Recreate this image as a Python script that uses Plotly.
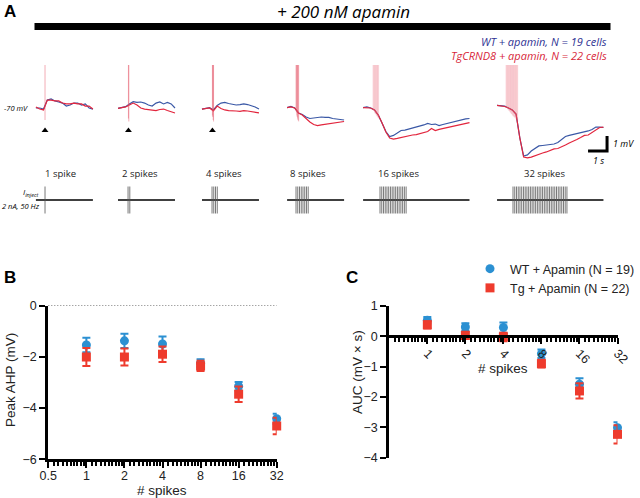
import plotly.graph_objects as go

W, H = 640, 498

# ---- panel A: averaged voltage traces (mV), sampled every 0.2 s ----
DT = 0.2
WT_1 = [-70.0, -70.0, -70.07, -69.47, -69.4, -69.53, -69.6, -69.67, -69.87, -69.8, -69.67, -69.67, -69.8, -69.73, -70.0, -70.07]
TG_1 = [-69.93, -70.07, -70.13, -69.47, -69.47, -69.53, -69.53, -69.67, -69.73, -69.73, -69.67, -69.73, -69.73, -69.87, -69.87, -70.07]
WT_2 = [-70.02, -69.97, -69.91, -69.73, -69.58, -69.63, -69.6, -69.67, -69.8, -69.87, -69.67, -69.6, -69.73, -69.63, -69.73, -70.0]
TG_2 = [-70.03, -70.0, -69.93, -69.8, -69.67, -69.8, -70.0, -70.07, -70.1, -70.13, -70.17, -70.1, -70.07, -70.17, -70.23, -70.33]
WT_4 = [-70.07, -70.0, -69.97, -70.13, -69.83, -69.67, -69.63, -69.7, -69.73, -69.8, -69.77, -69.73, -69.77, -69.83, -69.93, -70.07]
TG_4 = [-70.07, -70.03, -70.0, -70.2, -69.87, -70.03, -70.13, -70.17, -70.17, -70.2, -70.23, -70.17, -70.2, -70.23, -70.3, -70.33]
WT_8 = [-69.97, -69.9, -70.0, -70.33, -70.43, -70.6, -70.7, -70.67, -70.63, -70.6, -70.63, -70.63, -70.7, -70.73, -70.77, -70.8]
TG_8 = [-69.97, -69.93, -70.0, -70.33, -70.47, -70.73, -70.93, -71.1, -71.17, -71.13, -71.1, -71.07, -71.03, -71.0, -70.93, -70.9]
WT_16 = [-69.97, -69.93, -70.0, -70.13, -70.47, -71.0, -71.57, -71.9, -71.83, -71.67, -71.5, -71.47, -71.4, -71.33, -71.3,
         -71.23, -71.13, -71.03, -71.1, -71.07, -71.17, -71.1, -71.03, -70.97, -70.9, -70.87, -70.8, -70.73, -70.7]
TG_16 = [-69.97, -69.97, -70.0, -70.13, -70.47, -71.0, -71.6, -72.0, -72.07, -72.03, -71.97, -71.9, -71.83, -71.8, -71.77,
         -71.7, -71.63, -71.57, -71.37, -71.5, -71.43, -71.37, -71.33, -71.27, -71.23, -71.17, -71.1, -71.0, -70.97]
WT_32 = [-69.83, -69.87, -69.87, -70.0, -70.13, -70.4, -72.0, -73.2, -73.13, -72.87, -72.67, -72.53, -72.5, -72.47, -72.47,
         -72.4, -72.3, -72.13, -71.9, -71.83, -71.77, -71.73, -71.67, -71.6, -71.53, -71.43, -71.27, -71.27, -71.3]
TG_32 = [-69.83, -69.87, -69.9, -70.0, -70.13, -70.4, -72.0, -73.27, -73.33, -73.27, -73.17, -73.07, -73.0, -72.93, -72.83,
         -72.73, -72.7, -72.6, -72.47, -72.33, -72.23, -72.1, -71.97, -71.83, -71.8, -71.63, -71.43, -71.3, -71.27]

# spike troughs (mV) inside each 50 Hz burst
TROUGH_1 = [-70.8]
TROUGH_2 = [-70.7, -70.9]
TROUGH_4 = [-70.5, -70.6, -70.8, -70.9]
TROUGH_8 = [-70.2, -70.3, -70.5, -70.6, -70.7, -70.8, -70.85, -70.9]
TROUGH_16 = [-70.05, -70.1, -70.2, -70.2, -70.3, -70.35, -70.4, -70.4, -70.45, -70.5, -70.55, -70.55, -70.6, -70.65, -70.7, -70.7]
TROUGH_32 = [-69.9, -69.95, -70.0, -70.0, -70.05, -70.1, -70.1, -70.15, -70.2, -70.2, -70.25, -70.3, -70.3, -70.35, -70.4, -70.4,
             -70.45, -70.5, -70.5, -70.55, -70.55, -70.6, -70.6, -70.65, -70.65, -70.7, -70.7, -70.75, -70.75, -70.8, -70.8, -70.8]

N_SPIKES = [1, 2, 4, 8, 16, 32]
STIM_LABELS = ['1 spike', '2 spikes', '4 spikes', '8 spikes', '16 spikes', '32 spikes']

# ---- panels B and C: mean +/- SEM ----
WT_AHP = [-1.54, -1.38, -1.50, -2.25, -3.15, -4.42]
WT_AHP_SEM = [0.28, 0.28, 0.29, 0.15, 0.17, 0.20]
TG_AHP = [-2.01, -2.01, -1.90, -2.36, -3.46, -4.70]
TG_AHP_SEM = [0.35, 0.33, 0.30, 0.20, 0.30, 0.32]

WT_AUC = [0.53, 0.31, 0.29, -0.57, -1.58, -3.01]
WT_AUC_SEM = [0.11, 0.12, 0.17, 0.14, 0.20, 0.18]
TG_AUC = [0.38, 0.03, -0.02, -0.90, -1.80, -3.23]
TG_AUC_SEM = [0.12, 0.12, 0.14, 0.13, 0.25, 0.30]

# layout helpers (pixel -> paper)
PX_S = 19.0          # px per second in panel A
def px(x): return x / W
def py(y): return 1 - y / H

trace_start = [1.89, 6.21, 10.63, 15.11, 19.11, 26.16]
spike_t = [2.37, 6.76, 11.18, 15.58, 19.63, 26.63]
stim_t = [2.37, 6.74, 11.16, 15.58, 20.0, 27.0]
label_t = [2.26, 6.32, 10.74, 15.16, 19.79, 27.47]
STIM_GAP = 0.0916
SPIKE_TOP = -55

BLUE_TR = '#3a58a6'
RED_TR = '#e2253d'
BLUE = '#2b90d2'
RED = '#ee3b2d'

wt_traces = [WT_1, WT_2, WT_4, WT_8, WT_16, WT_32]
tg_traces = [TG_1, TG_2, TG_4, TG_8, TG_16, TG_32]
troughs = [TROUGH_1, TROUGH_2, TROUGH_4, TROUGH_8, TROUGH_16, TROUGH_32]
spike_colors = ['rgba(228,80,100,0.6)', 'rgba(228,80,100,0.6)', 'rgba(228,80,100,0.55)',
                'rgba(228,80,100,0.42)', 'rgba(236,110,125,0.28)', 'rgba(236,110,125,0.28)']

fig = go.Figure()

for i in range(6):
    t = [trace_start[i] + k * DT for k in range(len(wt_traces[i]))]
    fig.add_trace(go.Scatter(x=t, y=wt_traces[i], mode='lines', line=dict(color=BLUE_TR, width=1.2),
                             showlegend=False, hoverinfo='skip'))
    fig.add_trace(go.Scatter(x=t, y=tg_traces[i], mode='lines', line=dict(color=RED_TR, width=1.2),
                             showlegend=False, hoverinfo='skip'))
    xs, ys = [], []
    for k, tr in enumerate(troughs[i]):
        xs += [spike_t[i] + k * 0.02, spike_t[i] + k * 0.02, None]
        ys += [tr, SPIKE_TOP, None]
    fig.add_trace(go.Scatter(x=xs, y=ys, mode='lines',
                             line=dict(color=spike_colors[i], width=0.8 if N_SPIKES[i] < 16 else 0.6),
                             showlegend=False, hoverinfo='skip'))

    # stimulus row
    end = t[-1]
    fig.add_trace(go.Scatter(x=[trace_start[i], end], y=[0, 0], xaxis='x', yaxis='y2', mode='lines',
                             line=dict(color='black', width=1.3), showlegend=False, hoverinfo='skip'))
    sx, sy = [], []
    for k in range(N_SPIKES[i]):
        sx += [stim_t[i] + k * STIM_GAP, stim_t[i] + k * STIM_GAP, None]
        sy += [-0.9, 0.9, None]
    fig.add_trace(go.Scatter(x=sx, y=sy, xaxis='x', yaxis='y2', mode='lines',
                             line=dict(color='#555555', width=0.8), showlegend=False, hoverinfo='skip'))
    fig.add_annotation(x=label_t[i], y=py(173), xref='x', yref='paper', text=STIM_LABELS[i],
                       showarrow=False, xanchor='left', yanchor='middle',
                       font=dict(family='Open Sans', size=9.5, color='#222'))

# stimulus arrowheads for single / short trains
fig.add_trace(go.Scatter(x=spike_t[:3], y=[-71.5] * 3, mode='markers',
                         marker=dict(symbol='triangle-up', size=6, color='black'),
                         showlegend=False, hoverinfo='skip', cliponaxis=False))

# scale bar 1 s / 1 mV
fig.add_trace(go.Scatter(x=[30.95, 31.95, 31.95], y=[-72.87, -72.87, -71.87], mode='lines',
                         line=dict(color='black', width=3), showlegend=False, hoverinfo='skip'))

# ---- panel B ----
fig.add_trace(go.Scatter(x=N_SPIKES, y=WT_AHP, xaxis='x3', yaxis='y3', mode='markers',
                         marker=dict(symbol='circle', size=9, color=BLUE),
                         error_y=dict(type='data', array=WT_AHP_SEM, color=BLUE, thickness=2, width=4),
                         showlegend=False, cliponaxis=False))
fig.add_trace(go.Scatter(x=N_SPIKES, y=TG_AHP, xaxis='x3', yaxis='y3', mode='markers',
                         marker=dict(symbol='square', size=9, color=RED),
                         error_y=dict(type='data', array=TG_AHP_SEM, color=RED, thickness=2, width=4),
                         showlegend=False, cliponaxis=False))

# ---- panel C ----
fig.add_trace(go.Scatter(x=N_SPIKES, y=WT_AUC, xaxis='x4', yaxis='y4', mode='markers',
                         name='WT + Apamin (N = 19)',
                         marker=dict(symbol='circle', size=9, color=BLUE),
                         error_y=dict(type='data', array=WT_AUC_SEM, color=BLUE, thickness=2, width=4),
                         cliponaxis=False))
fig.add_trace(go.Scatter(x=N_SPIKES, y=TG_AUC, xaxis='x4', yaxis='y4', mode='markers',
                         name='Tg + Apamin (N = 22)',
                         marker=dict(symbol='square', size=9, color=RED),
                         error_y=dict(type='data', array=TG_AUC_SEM, color=RED, thickness=2, width=4),
                         cliponaxis=False))

minor_vals = []
for base in [0.5, 1, 2, 4, 8, 16]:
    minor_vals += [base * (1 + j / 10) for j in range(1, 10)]

SANS = 'Liberation Sans, Arial'
AX_FONT = dict(family=SANS, size=12.5, color='#222')
TITLE_FONT = dict(family=SANS, size=13.5, color='#222')


def log_axis(vals):
    return dict(type='log', range=[-0.30103, 1.50515], tickvals=vals, automargin=False,
                ticktext=[('%g' % v) for v in vals], showgrid=False, zeroline=False,
                showline=True, linecolor='black', linewidth=3, ticks='outside', ticklen=6, tickwidth=2,
                tickcolor='black', tickfont=AX_FONT, ticklabelstandoff=-3,
                minor=dict(tickmode='array', tickvals=minor_vals, ticks='outside', ticklen=4, tickwidth=1.5,
                           tickcolor='black'))


def lin_axis(rng, vals, domain, anchor):
    return dict(domain=domain, range=rng, anchor=anchor, tickvals=vals, automargin=False,
                showgrid=False, zeroline=False, showline=True, linecolor='black', linewidth=3,
                ticks='outside', ticklen=6, tickwidth=2, tickcolor='black', tickfont=AX_FONT)


fig.update_layout(
    width=W, height=H, margin=dict(l=0, r=0, t=0, b=0, autoexpand=False),
    paper_bgcolor='white', plot_bgcolor='white',
    font=dict(family=SANS, color='#222'),
    xaxis=dict(domain=[0, 1], range=[0, W / PX_S], visible=False, anchor='y', automargin=False),
    yaxis=dict(domain=[py(165), py(65)], range=[-73.8, -67.133], visible=False, anchor='x', automargin=False),
    yaxis2=dict(domain=[py(218), py(182)], range=[-1.2, 1.2], visible=False, anchor='x', automargin=False),
    xaxis3=dict(domain=[px(48.3), px(276.7)], anchor='y3', **log_axis([0.5, 1, 2, 4, 8, 16, 32])),
    yaxis3=lin_axis([-6, 0], [-6, -4, -2, 0], [py(459.3), py(305.5)], 'x3'),
    xaxis4=dict(domain=[px(389.3), px(617.5)], anchor='free', position=py(336.3), tickangle=45,
                **log_axis([1, 2, 4, 8, 16, 32])),
    yaxis4=lin_axis([-4, 1], [-4, -3, -2, -1, 0, 1], [py(457.7), py(306)], 'x4'),
    legend=dict(x=px(470), y=py(254), xanchor='left', yanchor='top', bgcolor='rgba(0,0,0,0)',
                font=dict(family=SANS, size=12.5, color='#222'), tracegroupgap=0),
)

# black bar + dotted zero line in B
fig.add_shape(type='rect', xref='paper', yref='paper', x0=px(34.5), x1=px(610.5), y0=py(30), y1=py(23),
              fillcolor='black', line=dict(width=0))
fig.add_shape(type='line', xref='x3 domain', yref='y3', x0=0, x1=1, y0=0, y1=0,
              line=dict(color='black', width=1, dash='1px,2px'))


def ann(x, y, text, size, color='black', family='Open Sans', xanchor='left', yanchor='middle', angle=0):
    fig.add_annotation(x=px(x), y=py(y), xref='paper', yref='paper', text=text, showarrow=False,
                       xanchor=xanchor, yanchor=yanchor, textangle=angle,
                       font=dict(family=family, size=size, color=color))


ann(2, 12, '<b>A</b>', 17, family=SANS)
ann(2, 277, '<b>B</b>', 17, family=SANS)
ann(344, 277, '<b>C</b>', 17, family=SANS)
ann(343, 12, '<i>+ 200 nM apamin</i>', 17, xanchor='center')
ann(609, 41, '<i>WT + apamin, N = 19 cells</i>', 11, color='#2e3192', xanchor='right')
ann(609, 55, '<i>TgCRND8 + apamin, N = 22 cells</i>', 11, color='#d71f3a', xanchor='right')
ann(2, 108, '<i>-70 mV</i>', 7.5)
ann(42, 193, '<i>I<sub>inject</sub></i>', 8, xanchor='right')
ann(42, 206, '<i>2 nA, 50 Hz</i>', 7.5, xanchor='right')
ann(611, 143, '<i>1 mV</i>', 9)
ann(598, 160, '<i>1 s</i>', 9, xanchor='center')

# axis titles
ann(162, 490, '# spikes', 13.5, color='#222', family=SANS, xanchor='center')
ann(503, 368, '# spikes', 13.5, color='#222', family=SANS, xanchor='center')
ann(10, 380, 'Peak AHP (mV)', 13.5, color='#222', family=SANS, xanchor='center', angle=-90)
ann(357, 372, 'AUC (mV × s)', 13.5, color='#222', family=SANS, xanchor='center', angle=-90)

fig.write_html("out.html", config={'displayModeBar': False},
               post_script="document.body.style.margin='0';")
